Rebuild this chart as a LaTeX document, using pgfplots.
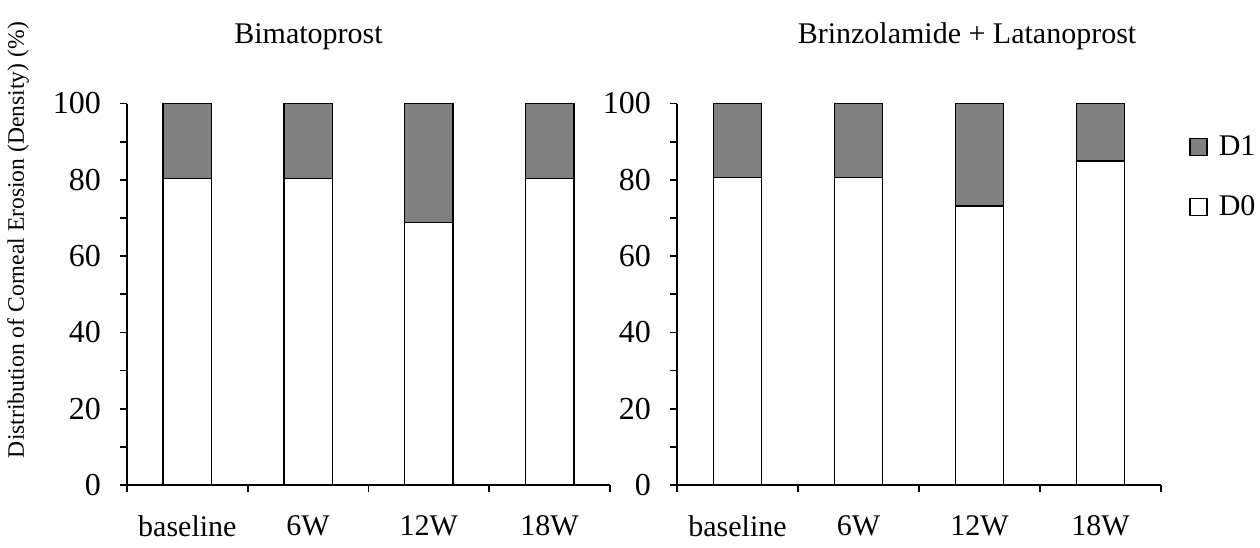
\documentclass[border=0pt]{standalone}
\usepackage{fontspec}
\setmainfont{Liberation Serif}
\usepackage{pgfplots}
\pgfplotsset{compat=1.18}
\definecolor{dgray}{gray}{0.5}
\pgfplotsset{
  panel/.style={
    scale only axis, anchor=south west,
    width=241.5pt, height=190.75pt,
    xmin=0, xmax=4, ymin=0, ymax=100,
    axis x line*=bottom, axis y line*=left,
    axis line style={line width=0.9pt, -},
    ybar stacked, bar width=24.2pt,
    ytick={0,20,40,60,80,100}, minor ytick={10,30,50,70,90},
    xtick={0.5,1.5,2.5,3.5}, xticklabels={baseline,6W,12W,18W},
    minor xtick={0,1,2,3,4},
    major x tick style={draw=none},
    tick align=outside,
    major tick length=3.5pt, minor tick length=3.5pt,
    every tick/.style={line width=0.9pt, black},
    minor x tick style={line width=0.9pt, black},
    minor y tick style={line width=0.9pt, black},
    major y tick style={line width=0.9pt, black},
    tick label style={font=\fontsize{15}{18}\selectfont},
    yticklabel style={font=\fontsize{16}{19}\selectfont},
    /pgf/number format/assume math mode=true,
    xticklabel style={anchor=center, yshift=-17pt},
    yticklabel style={anchor=east, xshift=-6pt},
    title style={font=\fontsize{15}{18}\selectfont, at={(axis description cs:0.5,1)}, anchor=center, yshift=27.5pt},
    clip=false,
  },
  d0/.style={fill=white, draw=black, line width=0.7pt},
  d1/.style={fill=dgray, draw=black, line width=0.7pt},
}
\begin{document}
\begin{tikzpicture}
\useasboundingbox (0,0) rectangle (630pt,273.5pt);
\begin{axis}[panel, at={(63.5pt,31pt)}, title={Bimatoprost},
  title style={xshift=-30pt},
  ylabel={Distribution of Corneal Erosion (Density) (\%)},
  ylabel style={font=\fontsize{11.8}{14}\selectfont, at={(axis description cs:-0.2257,0.642)}, anchor=center, rotate=0}]
\addplot[d0] coordinates {(0.5,80.4) (1.5,80.4) (2.5,68.8) (3.5,80.4)};
\addplot[d1] coordinates {(0.5,19.6) (1.5,19.6) (2.5,31.2) (3.5,19.6)};
\end{axis}
\begin{axis}[panel, at={(338.5pt,31pt)}, width=242pt, title={Brinzolamide + Latanoprost},
  title style={xshift=24pt},
  legend style={draw=none, fill=none, at={(rel axis cs:1.045,0.935)}, anchor=north west,
    font=\fontsize{15}{18}\selectfont, row sep=15.5pt, column sep=4pt,
    nodes={inner sep=1.5pt}},
  legend cell align=left,
  reverse legend,
  legend image code/.code={\draw[#1, line width=0.7pt] (0pt,-4.3pt) rectangle (8.6pt,4.3pt);}]
\addplot[d0] coordinates {(0.5,80.6) (1.5,80.6) (2.5,73.1) (3.5,84.9)};
\addplot[d1] coordinates {(0.5,19.4) (1.5,19.4) (2.5,26.9) (3.5,15.1)};
\legend{D0,D1}
\end{axis}
\end{tikzpicture}
\end{document}
